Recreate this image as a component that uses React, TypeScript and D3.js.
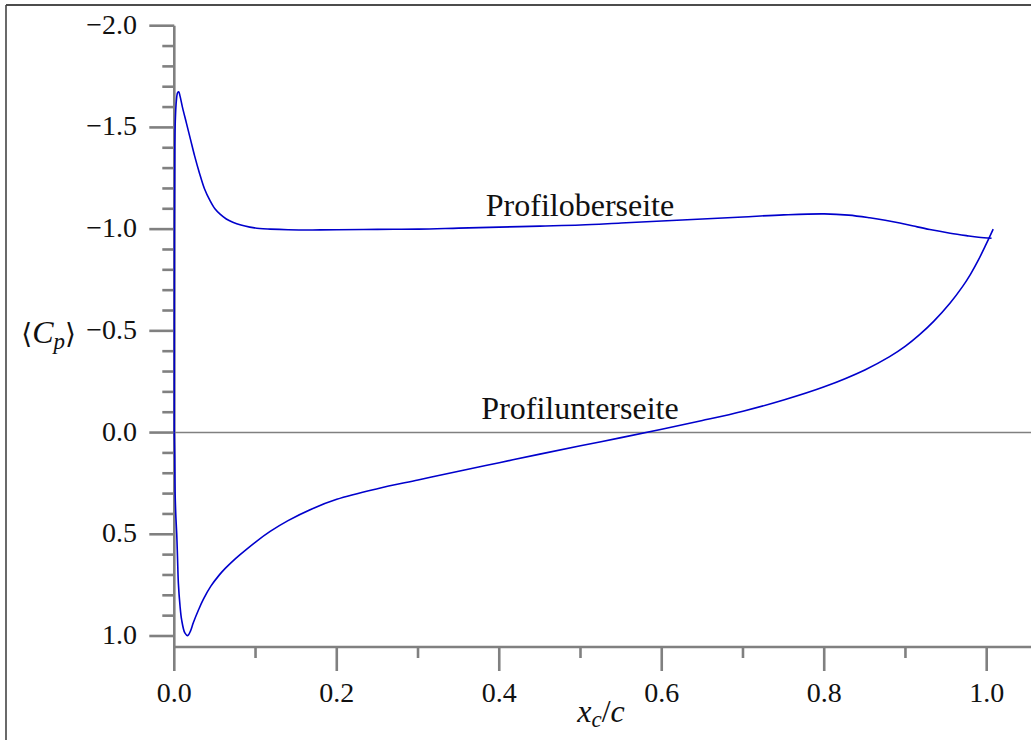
import React from "react";
import * as d3 from "d3";

// Mean pressure coefficient along the chord, suction side
const upperX = [0, 0.0002, 0.0006, 0.0012, 0.0025, 0.004, 0.0055, 0.007, 0.01, 0.015, 0.02, 0.025, 0.031, 0.037, 0.044, 0.05, 0.056, 0.064, 0.072, 0.082, 0.093, 0.105, 0.118, 0.14, 0.17, 0.2, 0.25, 0.3, 0.35, 0.4, 0.45, 0.5, 0.55, 0.6, 0.65, 0.7, 0.75, 0.8, 0.83, 0.856, 0.875, 0.893, 0.91, 0.93, 0.955, 0.975, 0.99, 1.006];
const upperCp = [0.0, -1.0, -1.4, -1.53, -1.63, -1.67, -1.675, -1.655, -1.6, -1.52, -1.44, -1.36, -1.275, -1.2, -1.14, -1.1, -1.075, -1.05, -1.034, -1.02, -1.01, -1.003, -1.0, -0.997, -0.996, -0.997, -0.999, -1.0, -1.005, -1.01, -1.015, -1.02, -1.03, -1.04, -1.05, -1.06, -1.07, -1.075, -1.069, -1.056, -1.044, -1.03, -1.015, -0.998, -0.98, -0.968, -0.96, -0.955];

// Pressure side
const lowerX = [0, 0.0005, 0.001, 0.002, 0.003, 0.004, 0.005, 0.007, 0.009, 0.013, 0.0165, 0.02, 0.0234, 0.03, 0.0357, 0.045, 0.055, 0.0624, 0.07, 0.081, 0.1, 0.118, 0.14, 0.17, 0.2, 0.25, 0.3, 0.35, 0.4, 0.45, 0.5, 0.55, 0.6, 0.65, 0.7, 0.75, 0.8, 0.85, 0.88, 0.9, 0.917, 0.935, 0.955, 0.97, 0.98, 0.99, 0.998, 1.008];
const lowerCp = [0.0, 0.12, 0.3, 0.42, 0.5, 0.62, 0.74, 0.85, 0.92, 0.985, 0.998, 0.975, 0.935, 0.87, 0.82, 0.755, 0.702, 0.669, 0.639, 0.6, 0.538, 0.486, 0.433, 0.374, 0.328, 0.276, 0.233, 0.19, 0.148, 0.106, 0.065, 0.025, -0.016, -0.059, -0.105, -0.16, -0.225, -0.308, -0.372, -0.425, -0.48, -0.548, -0.637, -0.716, -0.778, -0.85, -0.915, -1.0];

const xMajorTicks = [0, 0.2, 0.4, 0.6, 0.8, 1.0];
const xMinorTicks = [0.1, 0.3, 0.5, 0.7, 0.9];
const yMajorTicks = [-2.0, -1.5, -1.0, -0.5, 0.0, 0.5, 1.0];
const yMinorTicks = d3.range(-20, 11).map((i) => i / 10).filter((v) => Math.abs(v * 2 - Math.round(v * 2)) > 1e-6);

const W = 1031;
const H = 740;
const AXIS = "#808080";
const LINE = "#0000cc";
const FONT = "'Liberation Serif', 'Times New Roman', serif";

const fmt = (v: number) => {
  const s = Math.abs(v).toFixed(1);
  return v < -1e-9 ? "\u2212" + s : s;
};

export default function App() {
  const x = d3.scaleLinear().domain([0, 1]).range([174.3, 986.7]);
  const y = d3.scaleLinear().domain([-2, 1]).range([25.7, 636]);
  const axisY = 647;
  const axisX = x(0);

  const line = d3
    .line<[number, number]>()
    .x((d) => x(d[0]))
    .y((d) => y(d[1]))
    .curve(d3.curveCatmullRom.alpha(0.5));

  const upper = upperX.map((v, i) => [v, upperCp[i]] as [number, number]);
  const lower = lowerX.map((v, i) => [v, lowerCp[i]] as [number, number]);

  return (
    <svg
      width={W}
      height={H}
      style={{ position: "absolute", left: 0, top: 0, background: "#fff" }}
      fontFamily={FONT}
    >
      <rect x={0} y={0} width={W} height={H} fill="#fff" />
      {/* outer frame */}
      <line x1={6} y1={5} x2={W} y2={5} stroke="#111" strokeWidth={1.6} />
      <line x1={6} y1={5} x2={6} y2={H} stroke="#444" strokeWidth={1.6} />

      {/* zero line */}
      <line x1={axisX} y1={y(0)} x2={W} y2={y(0)} stroke={AXIS} strokeWidth={1.6} />

      {/* y axis */}
      <line x1={axisX} y1={y(-2)} x2={axisX} y2={axisY} stroke={AXIS} strokeWidth={2.6} />
      {yMinorTicks.map((v) => (
        <line key={"ym" + v} x1={axisX - 12} x2={axisX} y1={y(v)} y2={y(v)} stroke={AXIS} strokeWidth={2.6} />
      ))}
      {yMajorTicks.map((v) => (
        <g key={"yM" + v}>
          <line x1={axisX - 25} x2={axisX} y1={y(v)} y2={y(v)} stroke={AXIS} strokeWidth={2.6} />
          <text x={137} y={y(v) + 8} textAnchor="end" fontSize={28} fill="#111">
            {fmt(v)}
          </text>
        </g>
      ))}

      {/* x axis */}
      <line x1={axisX} y1={axisY} x2={W} y2={axisY} stroke={AXIS} strokeWidth={2.6} />
      {xMinorTicks.map((v) => (
        <line key={"xm" + v} x1={x(v)} x2={x(v)} y1={axisY} y2={axisY + 11} stroke={AXIS} strokeWidth={2.6} />
      ))}
      {xMajorTicks.map((v) => (
        <g key={"xM" + v}>
          <line x1={x(v)} x2={x(v)} y1={axisY} y2={axisY + 24} stroke={AXIS} strokeWidth={2.6} />
          <text x={x(v)} y={702} textAnchor="middle" fontSize={28} fill="#111">
            {fmt(v)}
          </text>
        </g>
      ))}

      {/* curves */}
      <path d={line(upper) ?? ""} fill="none" stroke={LINE} strokeWidth={1.6} />
      <path d={line(lower) ?? ""} fill="none" stroke={LINE} strokeWidth={1.6} />

      {/* curve labels */}
      <text x={580} y={216} textAnchor="middle" fontSize={32} fill="#111">
        Profiloberseite
      </text>
      <text x={580} y={419} textAnchor="middle" fontSize={32} fill="#111">
        Profilunterseite
      </text>

      {/* axis titles */}
      <text x={76} y={343} textAnchor="end" fontSize={32} fill="#111">
        <tspan fontFamily="'DejaVu Serif', serif" fontSize={28}>{"\u27E8"}</tspan>
        <tspan fontStyle="italic">C</tspan>
        <tspan fontStyle="italic" fontSize={23} dy={6}>p</tspan>
        <tspan fontFamily="'DejaVu Serif', serif" fontSize={28} dy={-6}>{"\u27E9"}</tspan>
      </text>
      <text x={601} y={722} textAnchor="middle" fontSize={32} fill="#111">
        <tspan fontStyle="italic">x</tspan>
        <tspan fontStyle="italic" fontSize={23} dy={5}>c</tspan>
        <tspan dy={-5}>/</tspan>
        <tspan fontStyle="italic">c</tspan>
      </text>
    </svg>
  );
}
